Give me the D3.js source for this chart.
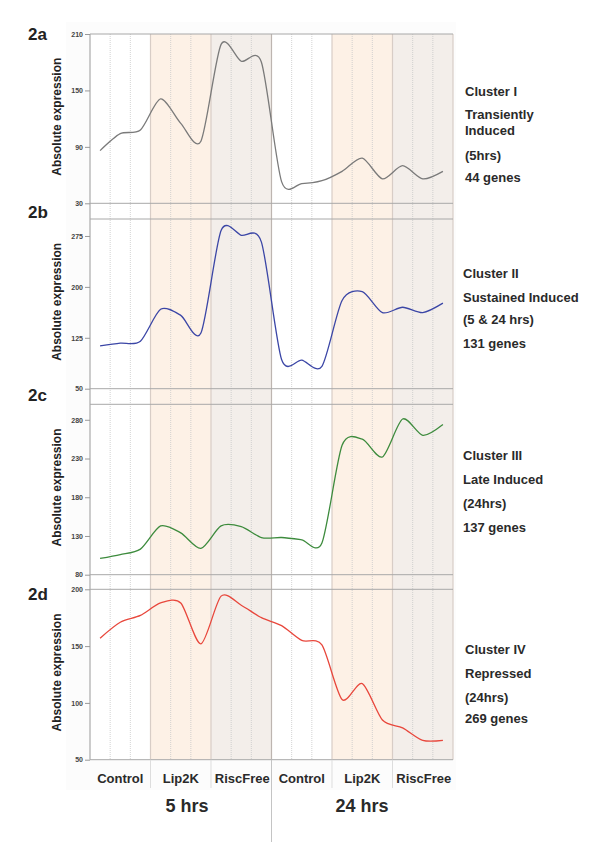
<!DOCTYPE html>
<html>
<head>
<meta charset="utf-8">
<script src="https://cdn.jsdelivr.net/npm/d3@7"></script>
<style>
  html, body { margin: 0; padding: 0; background: #fff; }
  svg { display: block; font-family: "Liberation Sans", Arial, sans-serif; }
</style>
</head>
<body>
<svg id="chart" width="600" height="842"></svg>
<script>
// ---- data ----
const conditions = ["Control", "Lip2K", "RiscFree", "Control", "Lip2K", "RiscFree"];
const timepoints = ["5 hrs", "24 hrs"];
const replicatesPerCondition = 3;
const panelIds = ["2a", "2b", "2c", "2d"];
const yDomains = [[30, 210], [50, 300], [80, 300], [50, 200]];
const yTicks = [[30, 90, 150, 210], [50, 125, 200, 275], [80, 130, 180, 230, 280], [50, 100, 150, 200]];
const series2a = [86, 104, 108, 141, 115, 96, 199, 181, 180, 53, 51, 54, 64, 78, 56, 70, 56, 64];
const series2b = [113, 117, 120, 167, 158, 132, 283, 276, 266, 93, 92, 83, 180, 193, 162, 170, 162, 176];
const series2c = [101, 106, 113, 143, 134, 114, 143, 142, 128, 128, 125, 121, 247, 255, 232, 281, 260, 274];
const series2d = [157, 171, 177, 188, 188, 152, 194, 186, 175, 168, 155, 151, 103, 117, 85, 78, 67, 67];
const clusterText2a = ["Cluster I", "Transiently", "Induced", "(5hrs)", "44 genes"];
const clusterText2b = ["Cluster II", "Sustained Induced", "(5 & 24 hrs)", "131 genes"];
const clusterText2c = ["Cluster III", "Late Induced", "(24hrs)", "137 genes"];
const clusterText2d = ["Cluster IV", "Repressed", "(24hrs)", "269 genes"];
const yTitle = "Absolute expression";

// ---- layout ----
const seriesList = [series2a, series2b, series2c, series2d];
const textList = [clusterText2a, clusterText2b, clusterText2c, clusterText2d];
const lineColors = ["#7a7a7a", "#3b46a6", "#3d8b3d", "#e8473c"];
const panelTops = [34, 219, 404.3, 589.3];
const panelBottoms = [203.3, 388.7, 574.7, 759.7];
const panelLabelY = [40, 218, 401, 600];
const textX = [465, 463, 463, 465];
const textBaselines = [[96, 119, 135, 160, 182], [277.7, 301.7, 324, 348], [460, 484, 508, 532], [654, 677.7, 701.7, 722.7]];
const nPts = conditions.length * replicatesPerCondition;

const svg = d3.select("#chart");
const x = d3.scaleLinear().domain([0, nPts]).range([90, 453]);

// faint chart background
svg.append("rect").attr("x", 66).attr("y", 22).attr("width", 390).attr("height", 768).attr("fill", "#fcfcfc");

const plotTop = panelTops[0], plotBottom = panelBottoms[3];

// condition bands
const bandFill = { "Control": "#ffffff", "Lip2K": "#fdf1e6", "RiscFree": "#f3eeea" };
conditions.forEach((c, i) => {
  svg.append("rect")
    .attr("x", x(i * replicatesPerCondition)).attr("y", plotTop)
    .attr("width", x((i + 1) * replicatesPerCondition) - x(i * replicatesPerCondition))
    .attr("height", plotBottom - plotTop)
    .attr("fill", bandFill[c]);
});

// dotted gridlines for replicates
d3.range(1, nPts).filter(i => i % replicatesPerCondition !== 0).forEach(i => {
  svg.append("line").attr("x1", x(i)).attr("x2", x(i)).attr("y1", plotTop).attr("y2", plotBottom)
    .attr("stroke", "#c8c8c8").attr("stroke-width", 0.8).attr("stroke-dasharray", "1,1");
});
// condition boundaries
d3.range(1, conditions.length + 1).forEach(k => {
  const i = k * replicatesPerCondition;
  svg.append("line").attr("x1", x(i)).attr("x2", x(i)).attr("y1", plotTop).attr("y2", plotBottom)
    .attr("stroke", i === nPts / 2 ? "#bdb5b0" : "#d8cdc6").attr("stroke-width", 1.2);
});
// left axis line
svg.append("line").attr("x1", x(0)).attr("x2", x(0)).attr("y1", plotTop).attr("y2", plotBottom)
  .attr("stroke", "#9a9a9a").attr("stroke-width", 1);

// panels
seriesList.forEach((vals, p) => {
  const y = d3.scaleLinear().domain(yDomains[p]).range([panelBottoms[p], panelTops[p]]);
  const g = svg.append("g");
  // top & bottom borders
  [panelTops[p], panelBottoms[p]].forEach(yy => {
    g.append("line").attr("x1", x(0)).attr("x2", x(nPts)).attr("y1", yy).attr("y2", yy)
      .attr("stroke", "#a8a8a8").attr("stroke-width", 1);
  });
  // y axis
  const ax = g.append("g").attr("transform", `translate(${x(0)},0)`)
    .call(d3.axisLeft(y).tickValues(yTicks[p]).tickSize(5).tickPadding(2).tickFormat(d3.format("d")));
  ax.select(".domain").remove();
  ax.selectAll(".tick line").attr("stroke", "#999");
  ax.selectAll(".tick text").attr("fill", "#444").style("font-size", "7px").style("font-weight", "bold")
    .style("font-family", "'Liberation Sans', Arial, sans-serif");
  // data line
  const line = d3.line().x((d, i) => x(i + 0.5)).y(d => y(d)).curve(d3.curveCardinal.tension(0.2));
  g.append("path").datum(vals).attr("d", line).attr("fill", "none")
    .attr("stroke", lineColors[p]).attr("stroke-width", 1.3);
  // y title
  const cy = (panelTops[p] + panelBottoms[p]) / 2 - 2;
  g.append("text").attr("transform", `translate(61,${cy}) rotate(-90)`)
    .attr("text-anchor", "middle").attr("font-size", 12).attr("font-weight", "bold")
    .attr("fill", "#222").text(yTitle);
  // panel label
  g.append("text").attr("x", 28).attr("y", panelLabelY[p]).attr("font-size", 17)
    .attr("font-weight", "bold").attr("fill", "#222").text(panelIds[p]);
  // cluster text
  textList[p].forEach((t, j) => {
    g.append("text").attr("x", textX[p]).attr("y", textBaselines[p][j]).attr("font-size", 13)
      .attr("font-weight", "bold").attr("fill", "#2a2a2a").text(t);
  });
});

// bottom condition labels
conditions.forEach((c, i) => {
  svg.append("text")
    .attr("x", x(i * replicatesPerCondition + replicatesPerCondition / 2) + (i === 2 || i === 5 ? 1 : 0))
    .attr("y", 783).attr("text-anchor", "middle").attr("font-size", 13).attr("font-weight", "bold")
    .attr("fill", "#2a2a2a").text(c);
});
// separators in label area
d3.range(1, conditions.length).forEach(k => {
  const i = k * replicatesPerCondition;
  svg.append("line").attr("x1", x(i)).attr("x2", x(i)).attr("y1", plotBottom)
    .attr("y2", i === nPts / 2 ? 842 : 788)
    .attr("stroke", i === nPts / 2 ? "#c4c4c4" : "#dddddd").attr("stroke-width", 1);
});
// timepoint labels
const tpX = [187, 362];
timepoints.forEach((t, i) => {
  svg.append("text").attr("x", tpX[i]).attr("y", 812).attr("text-anchor", "middle")
    .attr("font-size", 18).attr("font-weight", "bold").attr("fill", "#2a2a2a").text(t);
});
</script>
</body>
</html>
